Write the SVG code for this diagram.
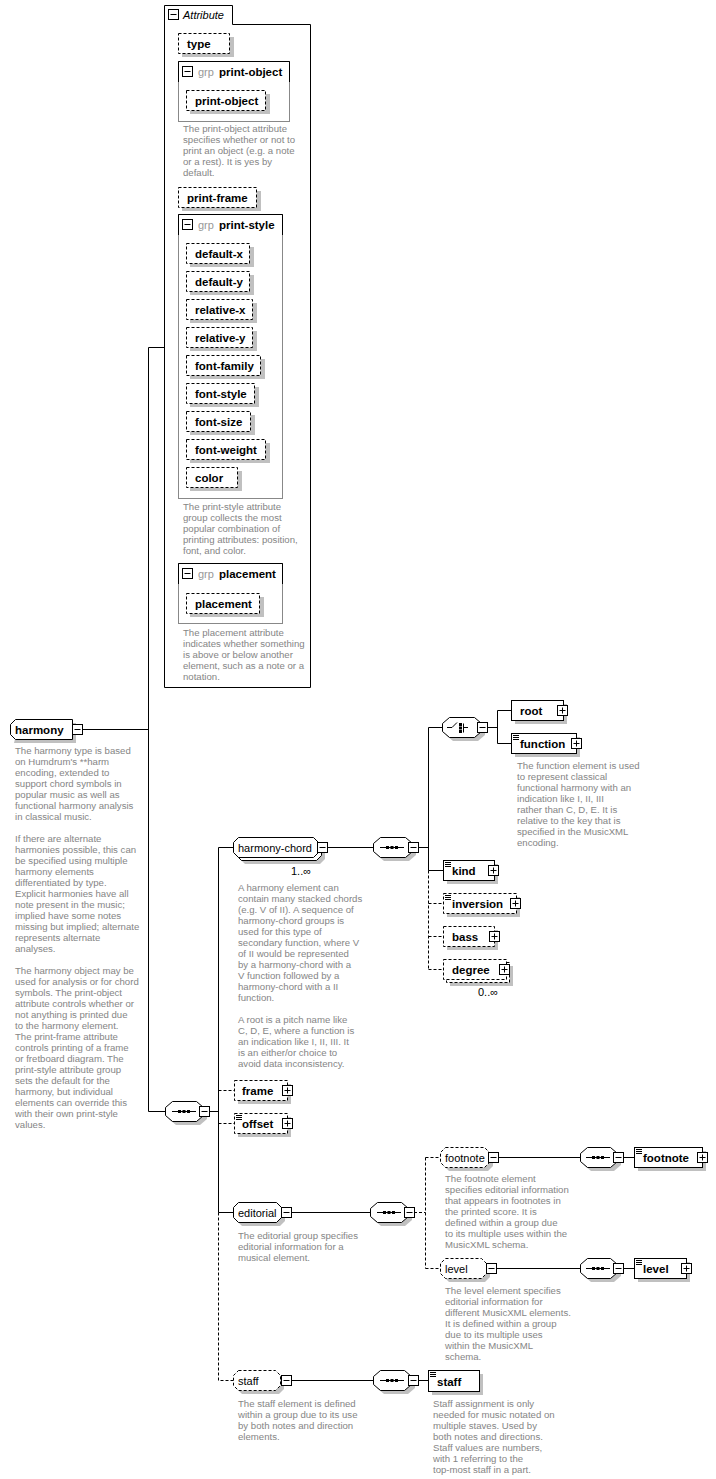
<svg xmlns="http://www.w3.org/2000/svg" xmlns:xlink="http://www.w3.org/1999/xlink" width="716" height="1479" viewBox="0 0 716 1479">
<style>
.ln{stroke:#000;stroke-width:1;fill:none}
.dl{stroke:#000;stroke-width:1;fill:none;stroke-dasharray:3,2}
.sh{fill:#c0c0c0;stroke:none}
.box{fill:#fff;stroke:#000;stroke-width:1}
.dbox{fill:#fff;stroke:#000;stroke-width:1;stroke-dasharray:3,2}
.gbox{fill:#fff;stroke:#888;stroke-width:1}
.b{font-family:"Liberation Sans",Arial,sans-serif;font-size:11.5px;font-weight:bold;fill:#000}
.r{font-family:"Liberation Sans",Arial,sans-serif;font-size:11px;fill:#000}
.g{font-family:"Liberation Sans",Arial,sans-serif;font-size:11px;fill:#999}
.it{font-family:"Liberation Sans",Arial,sans-serif;font-size:11px;font-style:italic;fill:#000}
.d{font-family:"Liberation Sans",Arial,sans-serif;font-size:9.6px;fill:#858585}
.m{font-family:"Liberation Sans",Arial,sans-serif;font-size:11px;fill:#000}
</style>
<defs>
<g id="mi"><rect x="0.5" y="0.5" width="10" height="10" fill="#fff" stroke="#000"/><path d="M2.5,5.5H8.5" stroke="#000"/></g>
<g id="pl"><rect x="0.5" y="0.5" width="10" height="10" fill="#fff" stroke="#000"/><path d="M2.5,5.5H8.5M5.5,2.5V8.5" stroke="#000"/></g>
<g id="doc"><path d="M2,1.5H8M2,3.5H8M2,5.5H8" stroke="#000" fill="none"/></g>
<g id="seq"><path d="M-12,0.5H12" stroke="#000"/><rect x="-6" y="-1" width="3" height="3" fill="#000"/><rect x="-1.5" y="-1" width="3" height="3" fill="#000"/><rect x="3" y="-1" width="3" height="3" fill="#000"/></g>
<g id="cho"><path d="M-13,0.5H-8L-3,-4.5" stroke="#000" fill="none"/><rect x="-1" y="-4" width="3" height="3" fill="#000"/><rect x="-1" y="-0.5" width="3" height="3" fill="#000"/><rect x="-1" y="3" width="3" height="3" fill="#000"/><path d="M3.5,-3.5V5.5M3.5,0.5H8" stroke="#000" fill="none"/></g>
</defs>
<rect x="0" y="0" width="716" height="1479" fill="#fff"/>

<g id="connectors">
<path class="ln" d="M82,729.5H148.5M148.5,347.5V1111.5M148.5,347.5H164M148.5,1111.5H165"/>
<path class="ln" d="M209,1111.5H218.5M218.5,847.5V1212.5M218.5,847.5H233M218.5,1212.5H233"/>
<path class="dl" d="M218.5,1212.5V1380.5H233M218.5,1090.5H234M218.5,1123.5H234"/>
<path class="ln" d="M327,847.5H373M418,847.5H428.5M428.5,727.5V870.5M428.5,727.5H442M428.5,870.5H443"/>
<path class="dl" d="M428.5,870.5V969.5M428.5,903.5H443M428.5,936.5H443M428.5,969.5H443"/>
<path class="ln" d="M487,727.5H497.5M497.5,710.5V743.5M497.5,710.5H511M497.5,743.5H511"/>
<path class="ln" d="M291,1212.5H370"/>
<path class="dl" d="M414,1212.5H425.5M425.5,1157.5V1268.5M425.5,1157.5H440M425.5,1268.5H440"/>
<path class="ln" d="M498,1157.5H580M623,1157.5H634M496,1268.5H580M623,1268.5H634"/>
<path class="ln" d="M291,1380.5H373M418,1380.5H428"/>
</g>

<g id="attributes">
<path class="ln" d="M164.5,5.5H232.5V24.5H310.5V687.5H164.5Z"/>
<use href="#mi" x="168" y="9"/>
<text class="it" x="183" y="19">Attribute</text>
</g>

<g id="attr-type">
<rect class="sh" x="182" y="37" width="52" height="20"/>
<rect class="dbox" x="178.5" y="33.5" width="51" height="20"/>
<text class="b" x="187" y="48">type</text>
</g>

<g id="grp-print-object">
<rect class="gbox" x="178.5" y="61.5" width="111" height="60"/>
<path class="ln" d="M178.5,82V61.5H289.5V82"/>
<use href="#mi" x="182" y="66"/>
<text class="g" x="198" y="75.5">grp</text>
<text class="b" x="219" y="75.5">print-object</text>
<rect class="sh" x="190" y="94" width="80" height="20"/>
<rect class="dbox" x="186.5" y="90.5" width="79" height="20"/>
<text class="b" x="195" y="105">print-object</text>
<text class="d" x="183" y="132"><tspan x="183" dy="0">The print-object attribute</tspan><tspan x="183" dy="11">specifies whether or not to</tspan><tspan x="183" dy="11">print an object (e.g. a note</tspan><tspan x="183" dy="11">or a rest). It is yes by</tspan><tspan x="183" dy="11">default.</tspan></text>
</g>

<g id="attr-print-frame">
<rect class="sh" x="182" y="191" width="79" height="20"/>
<rect class="dbox" x="178.5" y="187.5" width="78" height="20"/>
<text class="b" x="187" y="202">print-frame</text>
</g>

<g id="grp-print-style">
<rect class="gbox" x="178.5" y="214.5" width="104" height="284"/>
<path class="ln" d="M178.5,235V214.5H282.5V235"/>
<use href="#mi" x="182" y="219"/>
<text class="g" x="198" y="228.5">grp</text>
<text class="b" x="219" y="228.5">print-style</text>
<rect class="sh" x="190" y="247" width="64" height="20"/><rect class="dbox" x="186.5" y="243.5" width="63" height="20"/><text class="b" x="195" y="258">default-x</text>
<rect class="sh" x="190" y="275" width="64" height="20"/><rect class="dbox" x="186.5" y="271.5" width="63" height="20"/><text class="b" x="195" y="286">default-y</text>
<rect class="sh" x="190" y="303" width="67" height="20"/><rect class="dbox" x="186.5" y="299.5" width="66" height="20"/><text class="b" x="195" y="314">relative-x</text>
<rect class="sh" x="190" y="331" width="67" height="20"/><rect class="dbox" x="186.5" y="327.5" width="66" height="20"/><text class="b" x="195" y="342">relative-y</text>
<rect class="sh" x="190" y="359" width="75" height="20"/><rect class="dbox" x="186.5" y="355.5" width="74" height="20"/><text class="b" x="195" y="370">font-family</text>
<rect class="sh" x="190" y="387" width="69" height="20"/><rect class="dbox" x="186.5" y="383.5" width="68" height="20"/><text class="b" x="195" y="398">font-style</text>
<rect class="sh" x="190" y="415" width="65" height="20"/><rect class="dbox" x="186.5" y="411.5" width="64" height="20"/><text class="b" x="195" y="426">font-size</text>
<rect class="sh" x="190" y="443" width="80" height="20"/><rect class="dbox" x="186.5" y="439.5" width="79" height="20"/><text class="b" x="195" y="454">font-weight</text>
<rect class="sh" x="190" y="471" width="52" height="20"/><rect class="dbox" x="186.5" y="467.5" width="51" height="20"/><text class="b" x="195" y="482">color</text>
<text class="d" x="183" y="510"><tspan x="183" dy="0">The print-style attribute</tspan><tspan x="183" dy="11">group collects the most</tspan><tspan x="183" dy="11">popular combination of</tspan><tspan x="183" dy="11">printing attributes: position,</tspan><tspan x="183" dy="11">font, and color.</tspan></text>
</g>

<g id="grp-placement">
<rect class="gbox" x="178.5" y="563.5" width="104" height="60"/>
<path class="ln" d="M178.5,584V563.5H282.5V584"/>
<use href="#mi" x="182" y="568"/>
<text class="g" x="198" y="577.5">grp</text>
<text class="b" x="219" y="577.5">placement</text>
<rect class="sh" x="190" y="597" width="74" height="20"/>
<rect class="dbox" x="186.5" y="593.5" width="73" height="20"/>
<text class="b" x="195" y="608">placement</text>
<text class="d" x="183" y="636"><tspan x="183" dy="0">The placement attribute</tspan><tspan x="183" dy="11">indicates whether something</tspan><tspan x="183" dy="11">is above or below another</tspan><tspan x="183" dy="11">element, such as a note or a</tspan><tspan x="183" dy="11">notation.</tspan></text>
</g>

<g id="harmony">
<path class="sh" d="M19,723H76V743H14Z"/>
<path class="box" d="M15.5,719.5H72.5V739.5H15.5L10.5,734.5V724.5Z"/>
<use href="#mi" x="72" y="724"/>
<text class="b" x="15" y="734">harmony</text>
<text class="d" x="15" y="753.5"><tspan x="15" dy="0">The harmony type is based</tspan><tspan x="15" dy="11">on Humdrum's **harm</tspan><tspan x="15" dy="11">encoding, extended to</tspan><tspan x="15" dy="11">support chord symbols in</tspan><tspan x="15" dy="11">popular music as well as</tspan><tspan x="15" dy="11">functional harmony analysis</tspan><tspan x="15" dy="11">in classical music.</tspan><tspan x="15" dy="22">If there are alternate</tspan><tspan x="15" dy="11">harmonies possible, this can</tspan><tspan x="15" dy="11">be specified using multiple</tspan><tspan x="15" dy="11">harmony elements</tspan><tspan x="15" dy="11">differentiated by type.</tspan><tspan x="15" dy="11">Explicit harmonies have all</tspan><tspan x="15" dy="11">note present in the music;</tspan><tspan x="15" dy="11">implied have some notes</tspan><tspan x="15" dy="11">missing but implied; alternate</tspan><tspan x="15" dy="11">represents alternate</tspan><tspan x="15" dy="11">analyses.</tspan><tspan x="15" dy="22">The harmony object may be</tspan><tspan x="15" dy="11">used for analysis or for chord</tspan><tspan x="15" dy="11">symbols. The print-object</tspan><tspan x="15" dy="11">attribute controls whether or</tspan><tspan x="15" dy="11">not anything is printed due</tspan><tspan x="15" dy="11">to the harmony element.</tspan><tspan x="15" dy="11">The print-frame attribute</tspan><tspan x="15" dy="11">controls printing of a frame</tspan><tspan x="15" dy="11">or fretboard diagram. The</tspan><tspan x="15" dy="11">print-style attribute group</tspan><tspan x="15" dy="11">sets the default for the</tspan><tspan x="15" dy="11">harmony, but individual</tspan><tspan x="15" dy="11">elements can override this</tspan><tspan x="15" dy="11">with their own print-style</tspan><tspan x="15" dy="11">values.</tspan></text>
</g>

<g id="seq-main">
<path class="sh" d="M176,1105H200L207,1111V1119L200,1125H176L169,1119V1111Z"/>
<path class="box" d="M172.5,1101.5H196.5L203.5,1107.5V1115.5L196.5,1121.5H172.5L165.5,1115.5V1107.5Z"/>
<use href="#seq" x="184" y="1111"/>
<use href="#mi" x="199" y="1106"/>
</g>

<g id="harmony-chord">
<path class="sh" d="M245,844H320L325,849V859L320,864H245L240,859V849Z"/>
<path class="box" d="M241.5,840.5H316.5L321.5,845.5V855.5L316.5,860.5H241.5L236.5,855.5V845.5Z"/>
<path class="box" d="M238.5,837.5H313.5L318.5,842.5V852.5L313.5,857.5H238.5L233.5,852.5V842.5Z"/>
<use href="#mi" x="317" y="842"/>
<text class="r" x="238" y="851.5">harmony-chord</text>
<text class="m" x="291" y="875">1..∞</text>
<text class="d" x="238" y="891"><tspan x="238" dy="0">A harmony element can</tspan><tspan x="238" dy="11">contain many stacked chords</tspan><tspan x="238" dy="11">(e.g. V of II). A sequence of</tspan><tspan x="238" dy="11">harmony-chord groups is</tspan><tspan x="238" dy="11">used for this type of</tspan><tspan x="238" dy="11">secondary function, where V</tspan><tspan x="238" dy="11">of II would be represented</tspan><tspan x="238" dy="11">by a harmony-chord with a</tspan><tspan x="238" dy="11">V function followed by a</tspan><tspan x="238" dy="11">harmony-chord with a II</tspan><tspan x="238" dy="11">function.</tspan><tspan x="238" dy="22">A root is a pitch name like</tspan><tspan x="238" dy="11">C, D, E, where a function is</tspan><tspan x="238" dy="11">an indication like I, II, III. It</tspan><tspan x="238" dy="11">is an either/or choice to</tspan><tspan x="238" dy="11">avoid data inconsistency.</tspan></text>
</g>

<g id="seq-chord">
<path class="sh" d="M384,841H409L416,847V855L409,861H384L377,855V847Z"/>
<path class="box" d="M380.5,837.5H405.5L412.5,843.5V851.5L405.5,857.5H380.5L373.5,851.5V843.5Z"/>
<use href="#seq" x="392" y="847"/>
<use href="#mi" x="408" y="842"/>
</g>

<g id="choice">
<path class="sh" d="M453,721H478L485,727V735L478,741H453L446,735V727Z"/>
<path class="box" d="M449.5,717.5H474.5L481.5,723.5V731.5L474.5,737.5H449.5L442.5,731.5V723.5Z"/>
<use href="#cho" x="460" y="727"/>
<use href="#mi" x="477" y="722"/>
</g>

<g id="root">
<rect class="sh" x="515" y="704" width="52" height="20"/>
<rect class="box" x="511.5" y="700.5" width="52" height="20"/>
<text class="b" x="520" y="715">root</text>
<use href="#pl" x="557" y="705"/>
</g>

<g id="function">
<rect class="sh" x="515" y="737" width="65" height="20"/>
<rect class="box" x="511.5" y="733.5" width="65" height="20"/>
<use href="#doc" x="511" y="734"/>
<text class="b" x="520" y="748">function</text>
<use href="#pl" x="571" y="738"/>
<text class="d" x="517" y="769"><tspan x="517" dy="0">The function element is used</tspan><tspan x="517" dy="11">to represent classical</tspan><tspan x="517" dy="11">functional harmony with an</tspan><tspan x="517" dy="11">indication like I, II, III</tspan><tspan x="517" dy="11">rather than C, D, E. It is</tspan><tspan x="517" dy="11">relative to the key that is</tspan><tspan x="517" dy="11">specified in the MusicXML</tspan><tspan x="517" dy="11">encoding.</tspan></text>
</g>

<g id="kind">
<rect class="sh" x="447" y="864" width="51" height="20"/>
<rect class="box" x="443.5" y="860.5" width="51" height="20"/>
<use href="#doc" x="443" y="861"/>
<text class="b" x="452" y="875">kind</text>
<use href="#pl" x="488" y="865"/>
</g>

<g id="inversion">
<rect class="sh" x="447" y="897" width="73" height="20"/>
<rect class="dbox" x="443.5" y="893.5" width="73" height="20"/>
<use href="#doc" x="443" y="894"/>
<text class="b" x="452" y="908">inversion</text>
<use href="#pl" x="510" y="898"/>
</g>

<g id="bass">
<rect class="sh" x="447" y="930" width="51" height="20"/>
<rect class="dbox" x="443.5" y="926.5" width="51" height="20"/>
<text class="b" x="452" y="941">bass</text>
<use href="#pl" x="489" y="931"/>
</g>

<g id="degree">
<rect class="sh" x="450" y="966" width="63" height="20"/>
<rect class="dbox" x="446.5" y="962.5" width="63" height="20"/>
<rect class="dbox" x="443.5" y="959.5" width="63" height="20"/>
<text class="b" x="452" y="974">degree</text>
<use href="#pl" x="499" y="964"/>
<text class="m" x="478" y="996">0..∞</text>
</g>

<g id="frame">
<rect class="sh" x="238" y="1084" width="53" height="20"/>
<rect class="dbox" x="234.5" y="1080.5" width="53" height="20"/>
<text class="b" x="242" y="1095">frame</text>
<use href="#pl" x="282" y="1085"/>
</g>

<g id="offset">
<rect class="sh" x="238" y="1117" width="53" height="20"/>
<rect class="dbox" x="234.5" y="1113.5" width="53" height="20"/>
<use href="#doc" x="234" y="1114"/>
<text class="b" x="242" y="1128">offset</text>
<use href="#pl" x="282" y="1118"/>
</g>

<g id="editorial">
<path class="sh" d="M242,1206H280L285,1211V1221L280,1226H242L237,1221V1211Z"/>
<path class="box" d="M238.5,1202.5H276.5L281.5,1207.5V1217.5L276.5,1222.5H238.5L233.5,1217.5V1207.5Z"/>
<use href="#mi" x="281" y="1207"/>
<text class="r" x="238" y="1216.5">editorial</text>
<text class="d" x="238" y="1238.5"><tspan x="238" dy="0">The editorial group specifies</tspan><tspan x="238" dy="11">editorial information for a</tspan><tspan x="238" dy="11">musical element.</tspan></text>
</g>

<g id="seq-editorial">
<path class="sh" d="M381,1206H405L412,1212V1220L405,1226H381L374,1220V1212Z"/>
<path class="box" d="M377.5,1202.5H401.5L408.5,1208.5V1216.5L401.5,1222.5H377.5L370.5,1216.5V1208.5Z"/>
<use href="#seq" x="389" y="1212"/>
<use href="#mi" x="404" y="1207"/>
</g>

<g id="footnote-group">
<path class="sh" d="M449,1151H488L493,1156V1166L488,1171H449L444,1166V1156Z"/>
<path class="dbox" d="M445.5,1147.5H484.5L489.5,1152.5V1162.5L484.5,1167.5H445.5L440.5,1162.5V1152.5Z"/>
<use href="#mi" x="488" y="1152"/>
<text class="r" x="445" y="1161.5">footnote</text>
<text class="d" x="445" y="1181.5"><tspan x="445" dy="0">The footnote element</tspan><tspan x="445" dy="11">specifies editorial information</tspan><tspan x="445" dy="11">that appears in footnotes in</tspan><tspan x="445" dy="11">the printed score. It is</tspan><tspan x="445" dy="11">defined within a group due</tspan><tspan x="445" dy="11">to its multiple uses within the</tspan><tspan x="445" dy="11">MusicXML schema.</tspan></text>
</g>

<g id="seq-footnote">
<path class="sh" d="M591,1151H614L621,1157V1165L614,1171H591L584,1165V1157Z"/>
<path class="box" d="M587.5,1147.5H610.5L617.5,1153.5V1161.5L610.5,1167.5H587.5L580.5,1161.5V1153.5Z"/>
<use href="#seq" x="598" y="1157"/>
<use href="#mi" x="613" y="1152"/>
</g>

<g id="footnote">
<rect class="sh" x="638" y="1151" width="68" height="20"/>
<rect class="box" x="634.5" y="1147.5" width="68" height="20"/>
<use href="#doc" x="634" y="1148"/>
<text class="b" x="643" y="1162">footnote</text>
<use href="#pl" x="697" y="1152"/>
</g>

<g id="level-group">
<path class="sh" d="M449,1262H485L490,1267V1277L485,1282H449L444,1277V1267Z"/>
<path class="dbox" d="M445.5,1258.5H481.5L486.5,1263.5V1273.5L481.5,1278.5H445.5L440.5,1273.5V1263.5Z"/>
<use href="#mi" x="486" y="1263"/>
<text class="r" x="445" y="1272.5">level</text>
<text class="d" x="445" y="1294"><tspan x="445" dy="0">The level element specifies</tspan><tspan x="445" dy="11">editorial information for</tspan><tspan x="445" dy="11">different MusicXML elements.</tspan><tspan x="445" dy="11">It is defined within a group</tspan><tspan x="445" dy="11">due to its multiple uses</tspan><tspan x="445" dy="11">within the MusicXML</tspan><tspan x="445" dy="11">schema.</tspan></text>
</g>

<g id="seq-level">
<path class="sh" d="M591,1262H614L621,1268V1276L614,1282H591L584,1276V1268Z"/>
<path class="box" d="M587.5,1258.5H610.5L617.5,1264.5V1272.5L610.5,1278.5H587.5L580.5,1272.5V1264.5Z"/>
<use href="#seq" x="598" y="1268"/>
<use href="#mi" x="613" y="1263"/>
</g>

<g id="level">
<rect class="sh" x="638" y="1262" width="52" height="20"/>
<rect class="box" x="634.5" y="1258.5" width="52" height="20"/>
<use href="#doc" x="634" y="1259"/>
<text class="b" x="643" y="1273">level</text>
<use href="#pl" x="681" y="1263"/>
</g>

<g id="staff-group">
<path class="sh" d="M242,1374H279L284,1379V1389L279,1394H242L237,1389V1379Z"/>
<path class="dbox" d="M238.5,1370.5H275.5L280.5,1375.5V1385.5L275.5,1390.5H238.5L233.5,1385.5V1375.5Z"/>
<use href="#mi" x="281" y="1375"/>
<text class="r" x="238" y="1384.5">staff</text>
<text class="d" x="238" y="1406.5"><tspan x="238" dy="0">The staff element is defined</tspan><tspan x="238" dy="11">within a group due to its use</tspan><tspan x="238" dy="11">by both notes and direction</tspan><tspan x="238" dy="11">elements.</tspan></text>
</g>

<g id="seq-staff">
<path class="sh" d="M384,1374H408L415,1380V1388L408,1394H384L377,1388V1380Z"/>
<path class="box" d="M380.5,1370.5H404.5L411.5,1376.5V1384.5L404.5,1390.5H380.5L373.5,1384.5V1376.5Z"/>
<use href="#seq" x="392" y="1380"/>
<use href="#mi" x="408" y="1375"/>
</g>

<g id="staff">
<rect class="sh" x="432" y="1374" width="51" height="21"/>
<rect class="box" x="428.5" y="1370.5" width="51" height="21"/>
<use href="#doc" x="428" y="1371"/>
<text class="b" x="437" y="1385.5">staff</text>
<text class="d" x="433" y="1406.5"><tspan x="433" dy="0">Staff assignment is only</tspan><tspan x="433" dy="11">needed for music notated on</tspan><tspan x="433" dy="11">multiple staves. Used by</tspan><tspan x="433" dy="11">both notes and directions.</tspan><tspan x="433" dy="11">Staff values are numbers,</tspan><tspan x="433" dy="11">with 1 referring to the</tspan><tspan x="433" dy="11">top-most staff in a part.</tspan></text>
</g>
</svg>
